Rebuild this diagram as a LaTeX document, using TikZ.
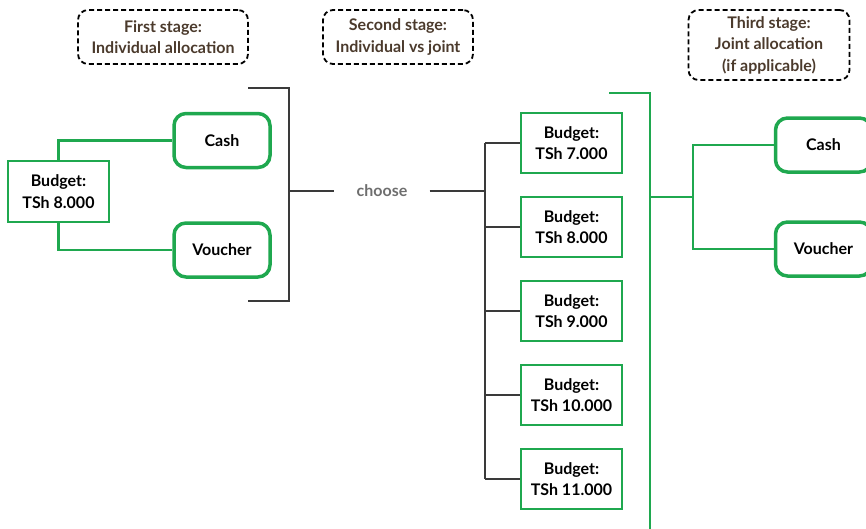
\documentclass[tikz,border=0pt]{standalone}
\usepackage{fontspec}
\setmainfont{Lato}
\usetikzlibrary{positioning}
\definecolor{leaf}{HTML}{1FA84F}
\definecolor{ink}{HTML}{3A3A3A}
\definecolor{bark}{HTML}{4B3A2C}
\definecolor{mute}{HTML}{6E6E6E}
\tikzset{
  txt/.style={font=\bfseries\fontsize{16}{21.5}\selectfont},
  budgetbox/.style={txt,draw=leaf,line width=2pt,fill=white,minimum width=101pt,minimum height=60pt,inner sep=0pt,align=center},
  optionbox/.style={txt,draw=leaf,line width=3.5pt,rounded corners=12pt,fill=white,minimum width=96pt,minimum height=54pt,inner sep=0pt},
  stagebox/.style={txt,draw=black,dash pattern=on 5pt off 3pt,line width=1.8pt,rounded corners=10pt,align=center,text=bark,inner sep=0pt},
  greenline/.style={leaf,line width=2.4pt},
  darkline/.style={ink,line width=2.4pt}
}

\begin{document}
\begin{tikzpicture}[x=1pt,y=-1pt]
  \useasboundingbox (0,0) rectangle (866,528);

  % Stage labels
  \node[stagebox,minimum width=170pt,minimum height=54pt] (stage1) at (163,37) {First stage:\\Individual allocation};
  \node[stagebox,minimum width=150pt,minimum height=54pt] (stage2) at (398,37) {Second stage:\\Individual vs joint};
  \node[stagebox,minimum width=161pt,minimum height=70pt] (stage3) at (769,45) {Third stage:\\Joint allocation\\(if applicable)};

  % First stage: individual budget
  \node[budgetbox,minimum height=61pt] (budget0) at (58.5,191.5) {Budget:\\TSh 8.000};
  \node[optionbox] (cashL) at (222,140.5) {Cash};
  \node[optionbox] (voucherL) at (222,250) {Voucher};
  \draw[greenline] (budget0.north) |- (cashL.west);
  \draw[greenline] (budget0.south) |- (voucherL.west);

  % Second stage: choose
  \coordinate (brTop) at (248,88);
  \coordinate (brMid) at (289,191);
  \coordinate (brBot) at (248,301);
  \draw[darkline] (brTop) -| (brMid) |- (brBot);
  \node[txt,text=mute,inner xsep=22pt,inner ysep=0pt] (choose) at (382,191) {choose};
  \coordinate (hub) at (485,191);
  \draw[darkline] (brMid) -- (choose.west);
  \draw[darkline] (choose.east) -- (hub);

  % Joint budgets
  \node[budgetbox] (budget1) at (571.5,143) {Budget:\\TSh 7.000};
  \node[budgetbox] (budget2) at (571.5,227) {Budget:\\TSh 8.000};
  \node[budgetbox] (budget3) at (571.5,311) {Budget:\\TSh 9.000};
  \node[budgetbox] (budget4) at (571.5,395) {Budget:\\TSh 10.000};
  \node[budgetbox] (budget5) at (571.5,479) {Budget:\\TSh 11.000};
  \draw[darkline] (hub |- budget1.west) -- (hub |- budget5.west);
  \foreach \b in {budget1,budget2,budget3,budget4,budget5}
    \draw[darkline] (hub |- \b.west) -- (\b.west);

  % Third stage: joint allocation
  \coordinate (gTop) at (609,93);
  \coordinate (gBot) at (650,530);
  \coordinate (gMid) at (650,197);
  \coordinate (gHub) at (693,197);
  \draw[greenline] (gTop) -| (gBot);
  \draw[greenline] (gMid) -- (gHub);
  \node[optionbox] (cashR) at (823.5,145) {Cash};
  \node[optionbox] (voucherR) at (823.5,249) {Voucher};
  \draw[greenline] (gHub) |- (cashR.west);
  \draw[greenline] (gHub) |- (voucherR.west);
\end{tikzpicture}
\end{document}
